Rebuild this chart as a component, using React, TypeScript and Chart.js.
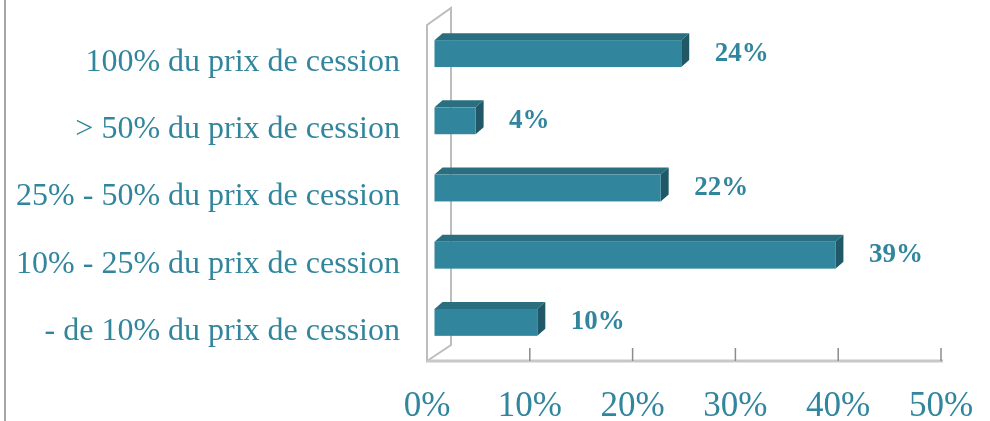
import React, { useEffect, useRef } from 'react';
import { Chart, registerables } from 'chart.js';

Chart.register(...registerables);

const categories = [
    '100% du prix de cession',
    '> 50% du prix de cession',
    '25% - 50% du prix de cession',
    '10% - 25% du prix de cession',
    '- de 10% du prix de cession',
];
const shares = [24, 4, 22, 39, 10];
const xTicks = [0, 10, 20, 30, 40, 50];

const TEAL = '#31859c';
const SERIF = "'Liberation Serif', 'Times New Roman', serif";

// frame, side wall, floor and the 3D look of the bars
const bars3d = {
    id: 'bars3d',
    beforeDatasetsDraw(chart: any) {
        const { ctx, chartArea, scales } = chart;
        const { left, right, top, bottom } = chartArea;
        ctx.save();
        ctx.strokeStyle = '#a6a6a6';
        ctx.lineWidth = 2;
        ctx.beginPath();
        ctx.moveTo(5, 0);
        ctx.lineTo(5, chart.height);
        ctx.stroke();

        ctx.strokeStyle = '#bdbdbd';
        ctx.lineWidth = 2;
        ctx.beginPath();
        ctx.moveTo(left, bottom);
        ctx.lineTo(left, top);
        ctx.lineTo(left + 24, top - 17);
        ctx.lineTo(left + 24, bottom - 16);
        ctx.closePath();
        ctx.stroke();

        ctx.strokeStyle = '#c8c8c8';
        ctx.lineWidth = 3;
        ctx.beginPath();
        ctx.moveTo(left, bottom);
        ctx.lineTo(right + 2, bottom);
        ctx.stroke();

        ctx.strokeStyle = '#8c8c8c';
        ctx.lineWidth = 1.5;
        xTicks.slice(1).forEach(v => {
            const px = scales.x.getPixelForValue(v);
            ctx.beginPath();
            ctx.moveTo(px, bottom - 13);
            ctx.lineTo(px, bottom);
            ctx.stroke();
        });
        ctx.restore();
    },
    afterDatasetsDraw(chart: any) {
        const { ctx } = chart;
        const meta = chart.getDatasetMeta(0);
        const dx1 = 7.5, dy1 = -5, dd = 8, dv = 7;
        ctx.save();
        meta.data.forEach((el: any, i: number) => {
            const { x, y, base, height } = el.getProps(['x', 'y', 'base', 'height'], true);
            const x0 = base + dx1;
            const x1 = x + dx1;
            const t = y - height / 2 + dy1;
            const b = y + height / 2 + dy1;

            ctx.fillStyle = '#2a6f80';
            ctx.beginPath();
            ctx.moveTo(x0, t);
            ctx.lineTo(x0 + dd, t - dv);
            ctx.lineTo(x1 + dd, t - dv);
            ctx.lineTo(x1, t);
            ctx.closePath();
            ctx.fill();

            ctx.fillStyle = '#205867';
            ctx.beginPath();
            ctx.moveTo(x1, t);
            ctx.lineTo(x1 + dd, t - dv);
            ctx.lineTo(x1 + dd, b - dv);
            ctx.lineTo(x1, b);
            ctx.closePath();
            ctx.fill();

            ctx.fillStyle = TEAL;
            ctx.fillRect(x0, t, x1 - x0, b - t);

            ctx.fillStyle = TEAL;
            ctx.font = `bold 27px ${SERIF}`;
            ctx.textAlign = 'left';
            ctx.textBaseline = 'middle';
            ctx.fillText(`${shares[i]}%`, x + 41, y + dy1);
        });
        ctx.restore();
    },
};

const ShareChart: React.FC = () => {
    const chartRef = useRef<HTMLCanvasElement | null>(null);
    const chartInstanceRef = useRef<Chart | null>(null);

    useEffect(() => {
        if (!chartRef.current) return;

        if (chartInstanceRef.current) {
            chartInstanceRef.current.destroy();
        }

        chartInstanceRef.current = new Chart(chartRef.current, {
            type: 'bar',
            data: {
                labels: categories,
                datasets: [{
                    data: shares,
                    backgroundColor: 'rgba(0,0,0,0)',
                    borderWidth: 0,
                    barPercentage: 0.4,
                    categoryPercentage: 1,
                }],
            },
            options: {
                indexAxis: 'y',
                responsive: true,
                maintainAspectRatio: false,
                animation: false,
                layout: { padding: { top: 25, right: 49, left: 0, bottom: 0 } },
                scales: {
                    x: {
                        min: 0,
                        max: 50,
                        afterFit: (scale: any) => {
                            scale.height = 60;
                            scale.paddingLeft = 0;
                            scale.paddingRight = 0;
                        },
                        afterBuildTicks: (scale: any) => { scale.ticks = xTicks.map(v => ({ value: v })); },
                        grid: { display: false, drawTicks: false },
                        border: { display: false },
                        ticks: {
                            padding: 25,
                            color: TEAL,
                            font: { family: SERIF, size: 35 },
                            maxRotation: 0,
                            callback: (value) => `${value}%`,
                        },
                    },
                    y: {
                        afterFit: (scale: any) => {
                            scale.width = 427;
                            scale.paddingTop = 0;
                            scale.paddingBottom = 0;
                        },
                        grid: { display: false, drawTicks: false },
                        border: { display: false },
                        ticks: {
                            padding: 27,
                            labelOffset: 4,
                            color: TEAL,
                            font: { family: SERIF, size: 32 },
                        },
                    },
                },
                plugins: {
                    legend: { display: false },
                    tooltip: { enabled: false },
                },
            },
            plugins: [bars3d],
        });

        return () => {
            chartInstanceRef.current?.destroy();
        };
    }, []);

    return (
        <div style={{ position: 'fixed', left: 0, top: 0, width: 990, height: 421, background: '#fff' }}>
            <canvas ref={chartRef}></canvas>
        </div>
    );
};

export default function App() {
    return <ShareChart />;
}
